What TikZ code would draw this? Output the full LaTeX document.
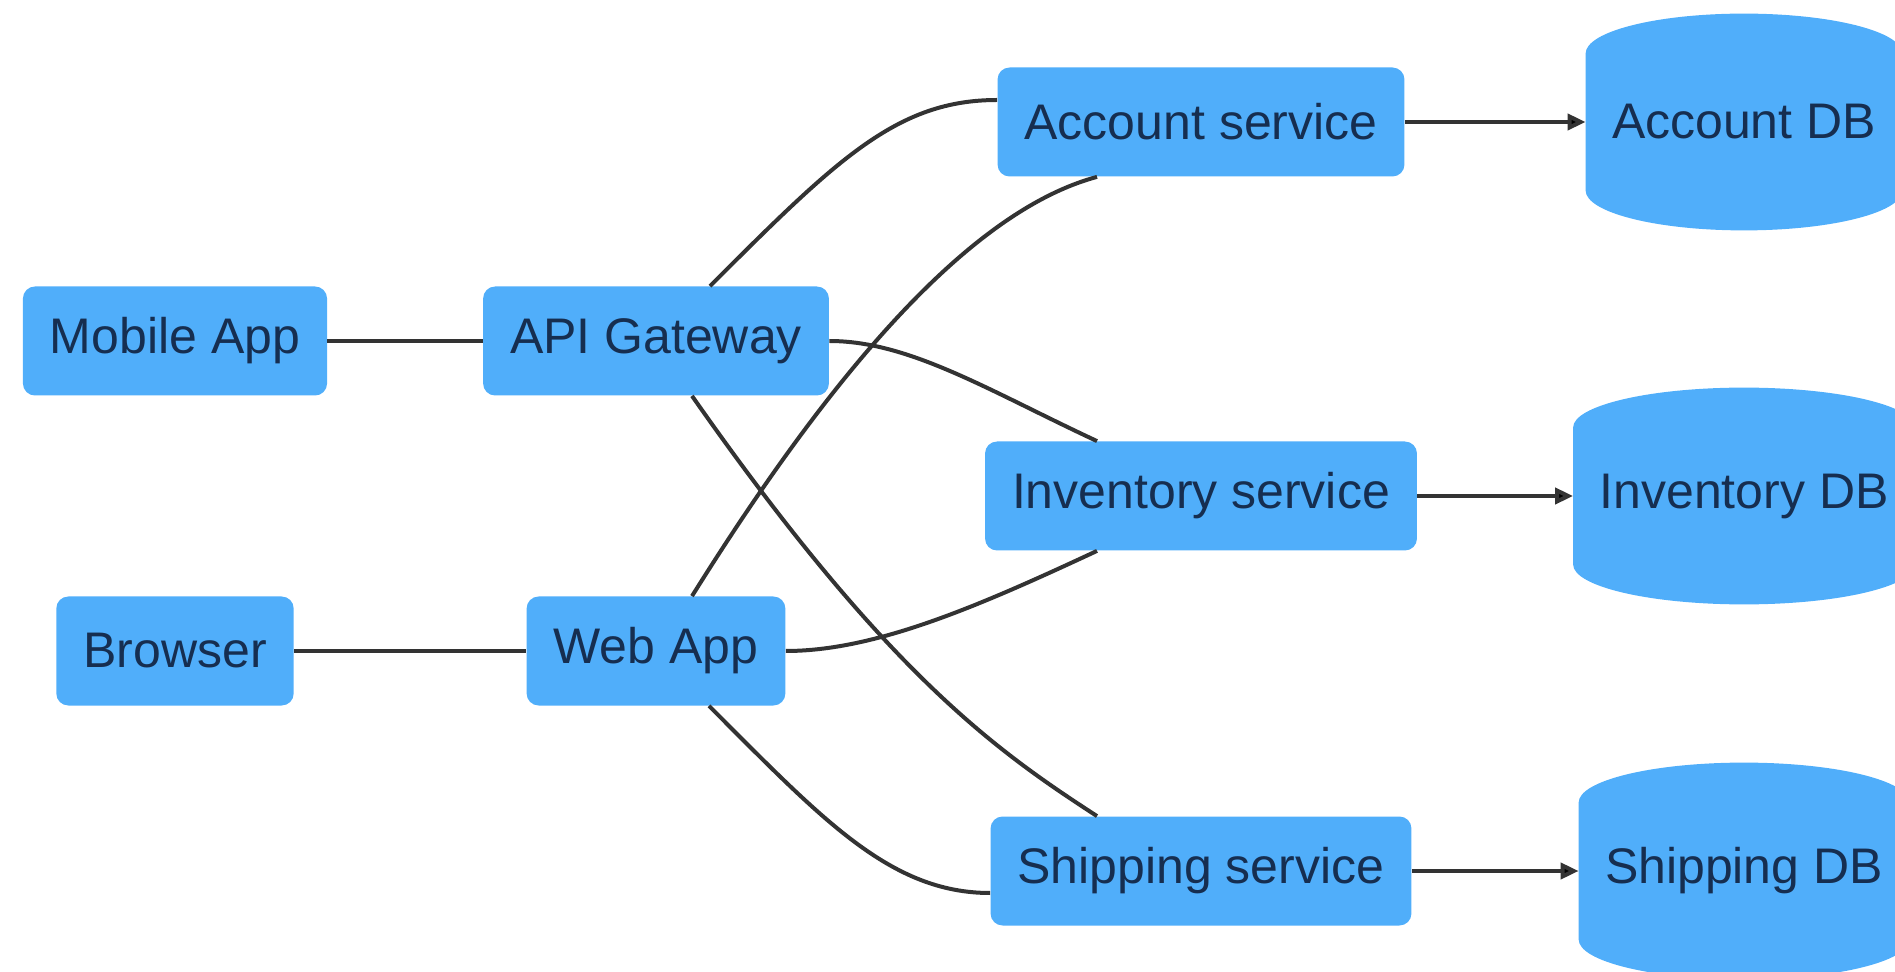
\documentclass[tikz,border=0pt]{standalone}
\usepackage{fontspec}
\setmainfont{Liberation Sans}
\usetikzlibrary{positioning, arrows.meta, backgrounds, calc}

\definecolor{boxblue}{RGB}{80,174,250}
\definecolor{textnavy}{RGB}{22,46,80}
\definecolor{linegray}{RGB}{51,51,51}

\begin{document}
\begin{tikzpicture}[on grid, font=\fontsize{25}{30}\selectfont,
    box/.style={rectangle, rounded corners=6pt, fill=boxblue, text=textnavy,
      inner xsep=13.5pt, minimum height=54.5pt},
    dbnode/.style={rectangle, text=textnavy, inner xsep=13pt, minimum height=108pt},
    link/.style={draw=linegray, line width=2pt},
    store/.style={link, -{Triangle[length=9pt, width=8pt]}}]
    \useasboundingbox (0,0) rectangle (947.5pt,-486pt);

    % Clients
    \node[box] (mobile) at (87.5pt,-170.5pt) {Mobile App};
    \node[box] (browser) [below=155pt of mobile] {Browser};
    \node[box] (gateway) [right=240.5pt of mobile] {API Gateway};
    \node[box] (webapp) [right=240.5pt of browser] {Web App};

    % Services
    \node[box] (inventory) [below right=77.5pt and 272.5pt of gateway] {Inventory service};
    \node[box] (account) [above=187pt of inventory] {Account service};
    \node[box] (shipping) [below=187.5pt of inventory] {Shipping service};

    % Databases
    \node[dbnode] (accountdb) [right=271.5pt of account] {Account DB};
    \node[dbnode] (inventorydb) [right=271.5pt of inventory] {Inventory DB};
    \node[dbnode] (shippingdb) [right=271.5pt of shipping] {Shipping DB};

    \begin{scope}[on background layer]
      \foreach \db in {accountdb, inventorydb, shippingdb}
        \fill[boxblue] let \p1 = (\db.north west), \p2 = (\db.south east),
            \n1 = {(\x2-\x1)/2} in
          (\x1,\y1-20pt) -- (\x1,\y2+20pt)
          arc[start angle=180, end angle=360, x radius=\n1, y radius=20pt]
          -- (\x2,\y1-20pt)
          arc[start angle=0, end angle=180, x radius=\n1, y radius=20pt] -- cycle;
    \end{scope}

    % Links
    \path[link]
      (mobile) -- (gateway)
      (browser) -- (webapp);
    \draw[link] ([xshift=27pt]gateway.north) .. controls +(45:90pt) and +(180:50pt) .. ([yshift=11pt]account.west);
    \draw[link] ([xshift=18pt]webapp.north) .. controls +(58:120pt) and +(195:70pt) .. ([xshift=-52pt]account.south);
    \draw[link] (gateway.east) .. controls +(0:40pt) and +(155:60pt) .. ([xshift=-52pt]inventory.north);
    \draw[link] ([xshift=18pt]gateway.south) .. controls +(-55:170pt) and +(147:60pt) .. ([xshift=-52pt]shipping.north);
    \draw[link] (webapp.east) .. controls +(0:45pt) and +(205:65pt) .. ([xshift=-52pt]inventory.south);
    \draw[link] ([xshift=26.5pt]webapp.south) .. controls +(-45:80pt) and +(180:50pt) .. ([yshift=-11pt]shipping.west);

    % Stores
    \path[store]
      (account) edge (accountdb)
      (inventory) edge (inventorydb)
      (shipping) edge (shippingdb);
\end{tikzpicture}
\end{document}
